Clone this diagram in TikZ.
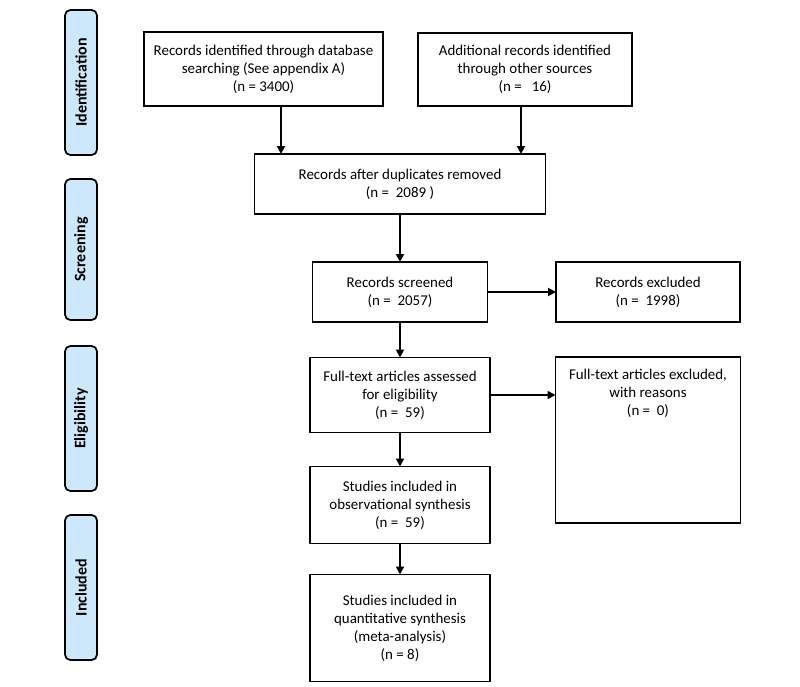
\documentclass[tikz,border=0pt]{standalone}
\usepackage{fontspec}
\setmainfont{Carlito}
\usetikzlibrary{arrows.meta}
\definecolor{phaseBlue}{RGB}{205,232,250}
\begin{document}
\begin{tikzpicture}[x=0.75pt, y=-0.75pt,
    boxStyle/.style={draw, line width=1.3pt, inner sep=0pt, outer sep=0pt, align=center, font=\fontsize{11.2}{13.5}\selectfont},
    phaseStyle/.style={draw, line width=1.3pt, rounded corners=4pt, fill=phaseBlue, rotate=90, minimum width=108.75pt, minimum height=24pt, inner sep=0pt, font=\fontsize{12}{14}\selectfont\bfseries},
    arrowStyle/.style={line width=1.4pt, -{Triangle[length=6pt, width=6pt]}}]
    \useasboundingbox (0,0) rectangle (800,686);

    % phase labels down the left side
    \node[phaseStyle](identPhase) at (81, 82.5) {Identification};
    \node[phaseStyle, minimum width=105.75pt](screenPhase) at (81, 249.5) {Screening};
    \node[phaseStyle](eligPhase) at (81, 418.5) {Eligibility};
    \node[phaseStyle](inclPhase) at (81, 587.5) {Included};

    % flow boxes
    \node[boxStyle, minimum width=179.25pt, minimum height=55.5pt](database) at (263.5, 69) {Records identified through database\\ searching (See appendix A)\\ (n = 3400)};
    \node[boxStyle, minimum width=160.5pt, minimum height=54.75pt](otherSrc) at (525, 69.5) {Additional records identified\\ through other sources\\ (n = \ \ 16)};
    \node[boxStyle, minimum width=218.25pt, minimum height=45pt](dedup) at (400, 184) {Records after duplicates removed\\ (n = \ 2089 )};
    \node[boxStyle, minimum width=131.25pt, minimum height=45pt](screened) at (400, 292) {Records screened\\ (n = \ 2057)};
    \node[boxStyle, minimum width=138pt, minimum height=45pt](excluded) at (648, 292) {Records excluded\\ (n = \ 1998)};
    \node[boxStyle, minimum width=135pt, minimum height=56.25pt](fullText) at (400, 395) {Full-text articles assessed\\ for eligibility\\ (n = \ 59)};
    \node[boxStyle, minimum width=138.75pt, minimum height=124.5pt](ftExcluded) at (648, 440) {};
    \node[align=center, anchor=north, inner sep=0pt, font=\fontsize{11.2}{13.5}\selectfont](ftReasons) at (648, 369) {Full-text articles excluded,\\ with reasons\\ (n = \ 0)};
    \node[boxStyle, minimum width=135pt, minimum height=57.75pt](qualSynth) at (400, 505) {Studies included in\\ observational synthesis\\ (n = \ 59)};
    \node[boxStyle, minimum width=135pt, minimum height=80.25pt](quantSynth) at (400, 628) {Studies included in\\ quantitative synthesis\\ (meta-analysis)\\ (n = 8)};

    \coordinate (leftDrop) at (281, 0);
    \coordinate (rightDrop) at (521, 0);

    \draw[arrowStyle] (database.south -| leftDrop) -- (dedup.north -| leftDrop);
    \draw[arrowStyle] (otherSrc.south -| rightDrop) -- (dedup.north -| rightDrop);
    \draw[arrowStyle] (dedup) -- (screened);
    \draw[arrowStyle] (screened) -- (excluded);
    \draw[arrowStyle] (screened) -- (fullText);
    \draw[arrowStyle] (fullText.east) -- (ftExcluded.west |- fullText.east);
    \draw[arrowStyle] (fullText) -- (qualSynth);
    \draw[arrowStyle] (qualSynth) -- (quantSynth);
\end{tikzpicture}
\end{document}
